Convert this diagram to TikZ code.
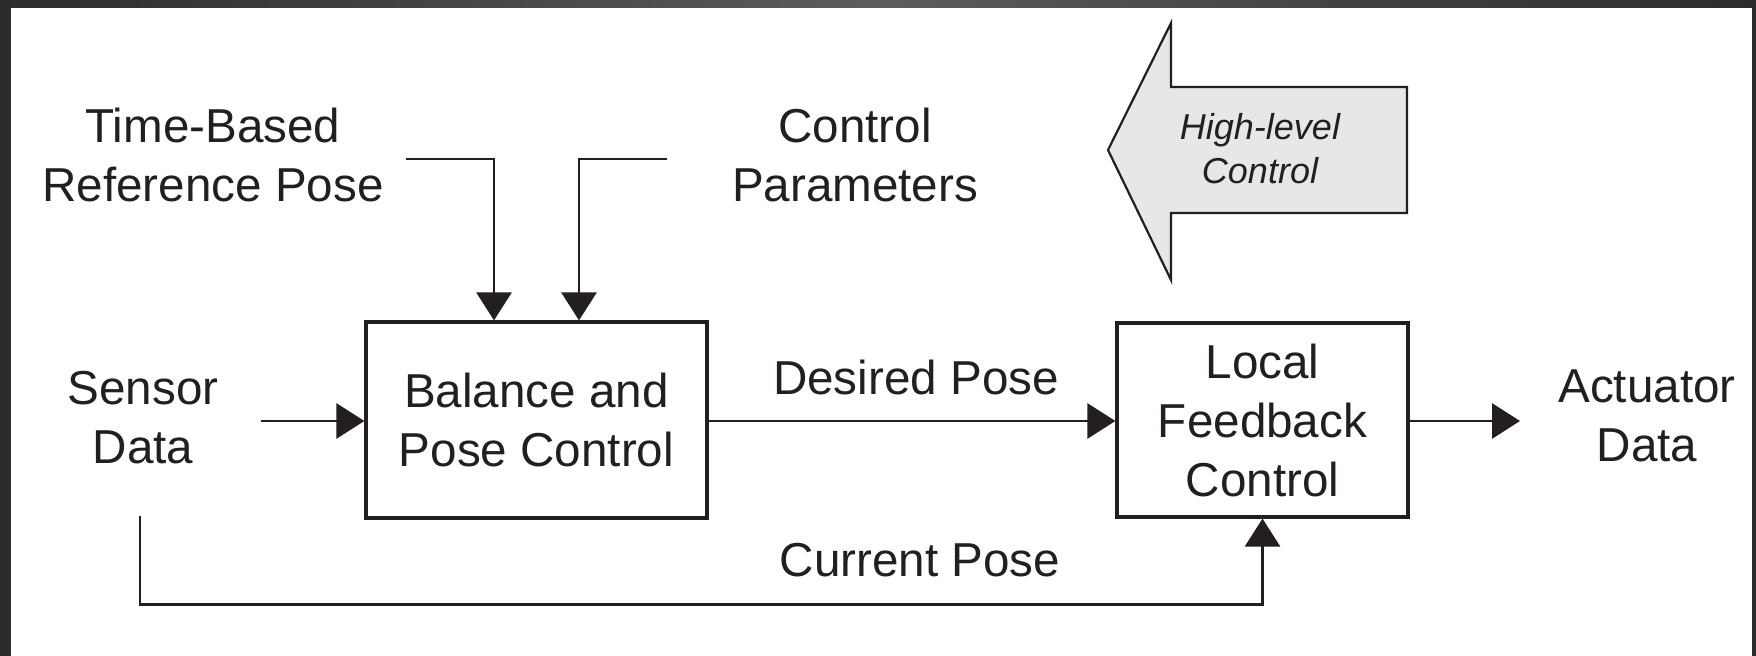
\documentclass[tikz,border=0pt]{standalone}
\usepackage{fontspec}
\setmainfont{Liberation Sans}
\usetikzlibrary{arrows.meta,calc}
\definecolor{ink}{RGB}{35,31,32}
\definecolor{arrowgray}{RGB}{230,231,232}
\definecolor{framedark}{RGB}{44,44,44}
\definecolor{framemid}{RGB}{92,92,92}
\begin{document}
\begin{tikzpicture}[x=0.5pt,y=-0.5pt,
  lbl/.style={inner sep=0pt, text=ink, font=\fontsize{23.8}{29.5}\selectfont, align=center, anchor=base},
  blk/.style={draw=ink, line width=1.6pt, inner sep=0pt, text=ink, font=\fontsize{23.8}{29.5}\selectfont, align=center},
  conn/.style={draw=ink, line width=1.45pt, -{Triangle[length=14pt,width=17.5pt]}},
  bigarrow/.style={draw=ink, fill=arrowgray, line width=1.1pt, line join=miter},
  hltext/.style={inner sep=0pt, text=ink, font=\fontsize{18}{22}\selectfont\itshape, align=center, anchor=base}]
\fill[white] (0,0) rectangle (1756,656);
\useasboundingbox (0,0) rectangle (1756,656);
% screenshot frame
\shade[left color=framedark, right color=framedark, middle color=framemid] (0,0) rectangle (1756,7.5);
\fill[framedark] (0,0) rectangle (11,656);
\fill[framedark] (1752,0) rectangle (1756,656);

% blocks
\node[blk, minimum width=170.5pt, minimum height=98pt] (bal) at (536.5,420) {Balance and\\Pose Control};
\node[blk, minimum width=145.5pt, minimum height=97pt] (loc) at (1262.5,420) {Local\\Feedback\\Control};

% labels (base = baseline of last line)
\node[lbl] (tbr) at (213,202) {Time-Based\\Reference Pose};
\node[lbl] (cpar) at (855,202) {Control\\Parameters};
\node[lbl] (sens) at (143,464) {Sensor\\Data};
\node[lbl] (act) at (1647,462) {Actuator\\Data};
\node[lbl] (des) at (916,395) {Desired Pose};
\node[lbl] (cur) at (920,577) {Current Pose};

% high-level arrow
\draw[bigarrow] (1108,150) -- (1171,23) -- (1171,87) -- (1407,87) -- (1407,213) -- (1171,213) -- (1171,280) -- cycle;
\node[hltext] (hl) at (1260,184) {High-level\\Control};

% connector end points
\coordinate (tbs) at (406,159);
\coordinate (cps) at (667,159);
\coordinate (sns) at (261,421);
\coordinate (acte) at (1520,421);
\coordinate (cus) at (140,516);

% connectors
\draw[conn] (tbs) -| ($(bal.north)+(-42.5,0)$);
\draw[conn] (cps) -| ($(bal.north)+(42.5,0)$);
\draw[conn] (sns) -- (sns -| bal.west);
\draw[conn] (bal.east |- sns) -- (loc.west |- sns);
\draw[conn] (loc.east |- sns) -- (acte);
\draw[conn] (cus) |- ($(loc.south)+(0,86)$) -- (loc.south);
\end{tikzpicture}
\end{document}
